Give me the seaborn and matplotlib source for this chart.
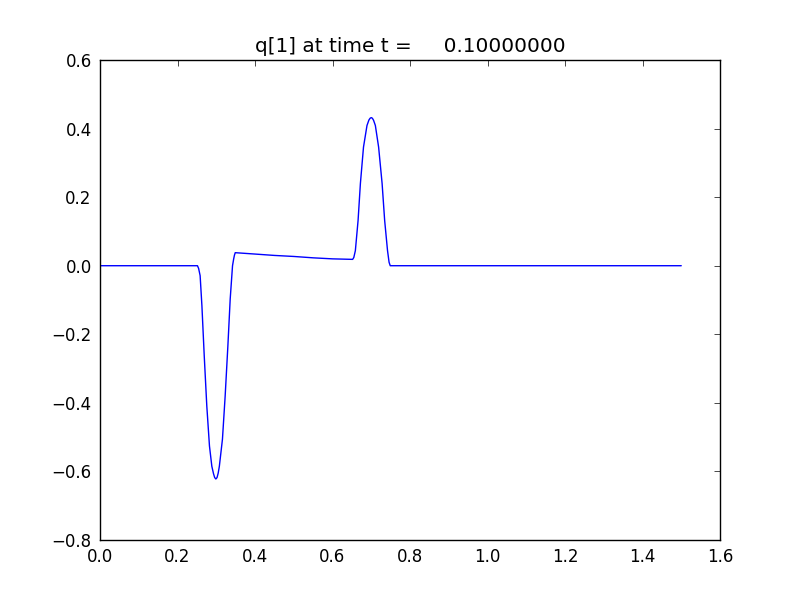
import pandas as pd
import matplotlib
matplotlib.use("Agg")
import matplotlib.pyplot as plt
import seaborn as sns

# Values
x_vals = [0.0, 0.10, 0.20, 0.2515, 0.2545, 0.2584, 0.263, 0.269, 0.2756, 0.2825,
          0.2886, 0.293, 0.296, 0.299, 0.302, 0.305, 0.308, 0.316, 0.323, 0.330,
          0.336, 0.342, 0.345, 0.347, 0.349, 0.40, 0.45, 0.50, 0.55,
          0.60, 0.652, 0.655, 0.659, 0.666, 0.672, 0.680, 0.689, 0.694, 0.697,
          0.700, 0.703, 0.706, 0.7106, 0.719, 0.728, 0.7346, 0.742, 0.746,
          0.749, 0.80, 1.0, 1.2, 1.5]
q_vals = [0.0, 0.0, 0.0, 0.0, -0.008, -0.029, -0.117, -0.263, -0.409, -0.526,
          -0.585, -0.607, -0.618, -0.622, -0.618, -0.605, -0.585, -0.506, -0.38, -0.234,
          -0.097, 0.0, 0.02, 0.031, 0.038, 0.034, 0.030, 0.027, 0.023,
          0.020, 0.0185, 0.024, 0.044, 0.132, 0.24, 0.346, 0.409, 0.425, 0.430,
          0.432, 0.430, 0.424, 0.409, 0.346, 0.24, 0.132, 0.044, 0.010,
          0.0, 0.0, 0.0, 0.0, 0.0]

df = pd.DataFrame({"x": x_vals, "q": q_vals})

sns.set_style("white")
plt.rcParams["font.family"] = ["DejaVu Sans"]
plt.rcParams["text.color"] = "black"
plt.rcParams["xtick.color"] = "black"
plt.rcParams["ytick.color"] = "black"

fig = plt.figure(figsize=(8, 6), dpi=100)
ax = fig.add_axes([0.125, 0.1, 0.775, 0.8])
sns.lineplot(data=df, x="x", y="q", color="#0000ff", linewidth=1.0,
             estimator=None, sort=False, ax=ax)

ax.set_xlim(0, 1.6)
ax.set_ylim(-0.8, 0.6)
ax.set_xticks([0.0, 0.2, 0.4, 0.6, 0.8, 1.0, 1.2, 1.4, 1.6])
ax.set_yticks([-0.8, -0.6, -0.4, -0.2, 0.0, 0.2, 0.4, 0.6])
ax.set_xlabel("")
ax.set_ylabel("")
ax.set_title("q[1] at time t =     0.10000000", fontsize=14.4, color="black")
ax.tick_params(direction="in", length=4, width=0.5, labelsize=12,
               top=True, right=True, pad=6, colors="black")
for s in ax.spines.values():
    s.set_color("black")
    s.set_linewidth(1.0)

fig.savefig("out.png", dpi=100, facecolor="white")
